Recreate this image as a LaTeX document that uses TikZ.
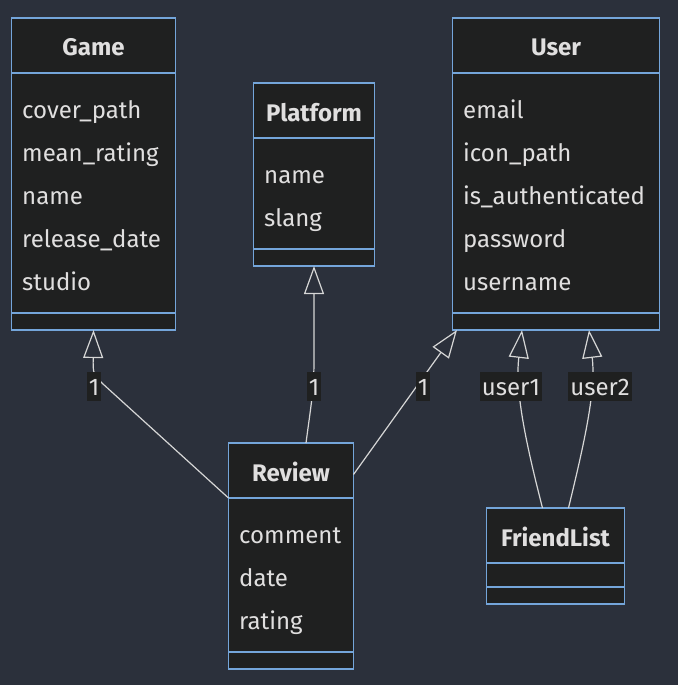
\documentclass[tikz,border=0pt]{standalone}
\usepackage{fontspec}
\setmainfont{Fira Sans}
\usetikzlibrary{positioning, arrows.meta}
\definecolor{fondo}{HTML}{2B303B}
\definecolor{caja}{HTML}{1F2020}
\definecolor{borde}{HTML}{74A5DA}
\definecolor{texto}{HTML}{E0DFDF}
\definecolor{linea}{HTML}{D6D6D6}

\begin{document}
\begin{tikzpicture}[
    x=1pt, y=-1pt,
    font=\fontsize{24}{28}\selectfont,
    part/.style={rectangle, draw=borde, fill=caja, line width=1.5pt, outer sep=0pt, inner sep=0pt},
    head/.style={part, font=\fontsize{24}{28}\selectfont\bfseries, text=texto,
                 minimum height=55pt, text height=21pt, text depth=0pt},
    attr/.style={anchor=base west, text=texto, inner sep=0pt},
    lbl/.style={fill=caja, text=texto, inner xsep=2pt, inner ysep=0pt,
                minimum height=29pt, text height=17pt, text depth=0pt},
    ext/.style={draw=linea, line width=1.2pt, -{Triangle[open, length=28pt, width=20pt]}}
]

% --- Fondo ---
\fill[fondo] (0,0) rectangle (678,685);
\useasboundingbox (0,0) rectangle (678,685);

% --- Clases ---
\node[head, minimum width=164pt] (game) at (93.5,45.5) {Game};
\node[part, minimum width=164pt, minimum height=240pt, below=0pt of game] (gameA) {};
\node[part, minimum width=164pt, minimum height=17pt, below=0pt of gameA] (gameM) {};

\node[head, minimum width=121pt] (plat) at (314,110.5) {Platform};
\node[part, minimum width=121pt, minimum height=111pt, below=0pt of plat] (platA) {};
\node[part, minimum width=121pt, minimum height=17pt, below=0pt of platA] (platM) {};

\node[head, minimum width=207pt] (user) at (556,45.5) {User};
\node[part, minimum width=207pt, minimum height=240pt, below=0pt of user] (userA) {};
\node[part, minimum width=207pt, minimum height=17pt, below=0pt of userA] (userM) {};

\node[head, minimum width=125pt] (rv) at (291,470.5) {Review};
\node[part, minimum width=125pt, minimum height=154pt, below=0pt of rv] (rvA) {};
\node[part, minimum width=125pt, minimum height=17pt, below=0pt of rvA] (rvM) {};

\node[head, minimum width=138pt] (fl) at (555.5,535.5) {FriendList};
\node[part, minimum width=138pt, minimum height=24pt, below=0pt of fl] (flA) {};
\node[part, minimum width=138pt, minimum height=17pt, below=0pt of flA] (flM) {};

% --- Atributos ---
\node[attr] (g1) at (22,118) {cover\_path};
\node[attr] (g2) at (22,161) {mean\_rating};
\node[attr] (g3) at (22,204) {name};
\node[attr] (g4) at (22,247) {release\_date};
\node[attr] (g5) at (22,290) {studio};

\node[attr] (p1) at (264,183) {name};
\node[attr] (p2) at (264,226) {slang};

\node[attr] (u1) at (463,118) {email};
\node[attr] (u2) at (463,161) {icon\_path};
\node[attr] (u3) at (463,204) {is\_authenticated};
\node[attr] (u4) at (463,247) {password};
\node[attr] (u5) at (463,290) {username};

\node[attr] (r1) at (239,543) {comment};
\node[attr] (r2) at (239,586) {date};
\node[attr] (r3) at (239,629) {rating};

% --- Relaciones ---
\draw[ext] (rv.south west) -- (103,384) .. controls (93,374) .. (gameM.south);
\draw[ext] ([xshift=15pt]rv.north) .. controls (311,405) and (314,390) .. (314,360) -- (platM.south);
\draw[ext] ([yshift=-4pt]rv.east) -- ([xshift=-99pt]userM.south);
\draw[ext] ([xshift=-13pt]fl.north) .. controls (525,440) and (515,390) .. ([xshift=-34pt]userM.south);
\draw[ext] ([xshift=13pt]fl.north) .. controls (585,440) and (596,390) .. ([xshift=33pt]userM.south);

% --- Etiquetas ---
\node[lbl] (lg) at (94,386.5) {1};
\node[lbl] (lp) at (314,386.5) {1};
\node[lbl] (lu) at (423,386.5) {1};
\node[lbl] (lu1) at (511,386.5) {user1};
\node[lbl] (lu2) at (600,386.5) {user2};
\end{tikzpicture}
\end{document}
